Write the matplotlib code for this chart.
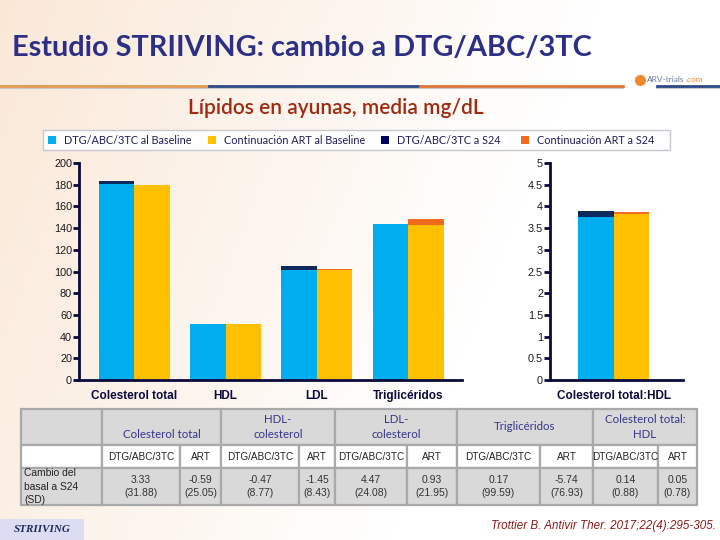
import matplotlib
matplotlib.use('Agg')
import matplotlib.pyplot as plt
import numpy as np
from matplotlib.patches import Rectangle
from matplotlib.lines import Line2D

# fasting lipids, mean mg/dL
categories = ['Colesterol total', 'HDL', 'LDL', 'Triglicéridos']
dtg_baseline = [181, 51.3, 101, 143.5]
dtg_s24 = [183.5, 52, 105, 144]
art_baseline = [180, 51.3, 101.5, 143]
art_s24 = [179.5, 52, 102, 148.5]

ratio_label = 'Colesterol total:HDL'
ratio_dtg_baseline = 3.75
ratio_dtg_s24 = 3.9
ratio_art_baseline = 3.83
ratio_art_s24 = 3.86

legend_labels = ['DTG/ABC/3TC al Baseline', 'Continuación ART al Baseline',
                 'DTG/ABC/3TC a S24', 'Continuación ART a S24']

# table: change from baseline to W24 (SD)
table_groups = ['Colesterol total', 'HDL-\ncolesterol', 'LDL-\ncolesterol',
                'Triglicéridos', 'Colesterol total:\nHDL']
table_arms = ['DTG/ABC/3TC', 'ART']
row_label = 'Cambio del\nbasal a S24\n(SD)'
change_mean = [3.33, -0.59, -0.47, -1.45, 4.47, 0.93, 0.17, -5.74, 0.14, 0.05]
change_sd = [31.88, 25.05, 8.77, 8.43, 24.08, 21.95, 99.59, 76.93, 0.88, 0.78]

C_BLUE = '#00ADEE'
C_YELLOW = '#FFC000'
C_NAVY = '#0C2A5B'
C_ORANGE = '#F26A1B'
C_AXIS = '#0A0A3C'
C_TITLE = '#2B2F86'

plt.rcParams['font.family'] = ['Lato', 'DejaVu Sans']

W, H = 720, 540
fig = plt.figure(figsize=(7.2, 5.4), dpi=100)


def fx(x):
    return x / W


def fy(y):
    return 1 - y / H


# background: soft peach fading to white
bg = fig.add_axes([0, 0, 1, 1], zorder=-10)
gx = np.linspace(0, 1, 200)
gy = np.linspace(0, 1, 150)
t = np.clip(np.add.outer(gy * 0.35, gx * 1.2), 0, 1)
peach = np.array([250, 232, 215]) / 255
img = peach[None, None, :] * (1 - t[..., None]) + t[..., None]
bg.imshow(img, aspect='auto', extent=[0, 1, 0, 1], origin='upper')
bg.set_axis_off()

# title + decorative rule
fig.text(fx(12), fy(48), 'Estudio STRIIVING: cambio a DTG/ABC/3TC', fontsize=20.8,
         fontweight='bold', color=C_TITLE, va='center', ha='left')
for x0, x1, c in [(0, 209, '#E39A55'), (209, 420, '#2C4A88'), (420, 623, '#E0773A'), (657, 720, '#2C4A88')]:
    fig.add_artist(Line2D([fx(x0), fx(x1)], [fy(88), fy(88)], color='#C8C8C8', lw=1.5))
    fig.add_artist(Line2D([fx(x0), fx(x1)], [fy(86), fy(86)], color=c, lw=2))
fig.add_artist(Line2D([fx(640)], [fy(80)], marker='o', ms=7, color='#F08A30'))
fig.text(fx(647), fy(80), 'ARV-trials', fontsize=6, color='#6A7A9A', va='center', ha='left')
fig.text(fx(686), fy(80), '.com', fontsize=6, color='#E8803A', va='center', ha='left')

fig.text(fx(336), fy(108), 'Lípidos en ayunas, media mg/dL', fontsize=15,
         fontweight='semibold', color='#9E2A10', va='center', ha='center')

# legend box
fig.add_artist(Rectangle((fx(43), fy(150)), fx(670 - 43), 20 / H, transform=fig.transFigure,
                         facecolor='white', edgecolor='#C8C8D0', lw=1))
leg_colors = [C_BLUE, C_YELLOW, '#000060', C_ORANGE]
leg_x = [48, 208, 381, 521]
for lx, c, lab in zip(leg_x, leg_colors, legend_labels):
    fig.add_artist(Rectangle((fx(lx), fy(144)), 8 / W, 8 / H, transform=fig.transFigure,
                             facecolor=c, edgecolor='none'))
    fig.text(fx(lx + 16), fy(140), lab, fontsize=7.8, color='#1E1E5A', va='center', ha='left')


def style_axis(ax):
    ax.set_facecolor('none')
    for s in ['top', 'right']:
        ax.spines[s].set_visible(False)
    for s in ['left', 'bottom']:
        ax.spines[s].set_color(C_AXIS)
        ax.spines[s].set_linewidth(2)
    ax.tick_params(axis='y', color=C_AXIS, length=4, width=2, labelsize=7.8, pad=1,
                   labelcolor='#1A1A1A', labelfontfamily='Liberation Sans')
    ax.tick_params(axis='x', length=0, pad=7, labelsize=8.5, labelcolor='#0A0A3C')
    for lab in ax.get_xticklabels():
        lab.set_fontweight('bold')
        lab.set_fontfamily('Liberation Sans')


bw = 0.39
# main lipid chart
ax = fig.add_axes([fx(79), fy(380), fx(462 - 79), (380 - 163) / H])
x = np.arange(len(categories))
ax.bar(x - bw / 2, dtg_s24, bw, color=C_NAVY, zorder=1)
ax.bar(x - bw / 2, dtg_baseline, bw, color=C_BLUE, zorder=2)
ax.bar(x + bw / 2, art_s24, bw, color=C_ORANGE, zorder=1)
ax.bar(x + bw / 2, art_baseline, bw, color=C_YELLOW, zorder=2)
ax.set_xlim(-0.606, 3.59)
ax.set_ylim(0, 200)
ax.set_yticks(range(0, 201, 20))
ax.set_xticks(x, categories)
style_axis(ax)

# ratio chart
ax2 = fig.add_axes([fx(550), fy(380), fx(683 - 550), (380 - 163) / H])
ax2.bar(-bw / 2, ratio_dtg_s24, bw, color=C_NAVY, zorder=1)
ax2.bar(-bw / 2, ratio_dtg_baseline, bw, color=C_BLUE, zorder=2)
ax2.bar(bw / 2, ratio_art_s24, bw, color=C_ORANGE, zorder=1)
ax2.bar(bw / 2, ratio_art_baseline, bw, color=C_YELLOW, zorder=2)
ax2.set_xlim(-0.70, 0.757)
ax2.set_ylim(0, 5)
yt = np.arange(0, 5.01, 0.5)
ax2.set_yticks(yt, ['%g' % v for v in yt])
ax2.set_xticks([0], [ratio_label])
style_axis(ax2)

# table
col_x = [21, 102, 180, 221, 299, 335, 407, 457, 540, 593, 658, 697]
row_y = [409, 445, 468, 505]
C_CELL = '#D9D9D9'
C_LINE = '#A9A9A9'


def cell(x0, x1, y0, y1, face):
    fig.add_artist(Rectangle((fx(x0), fy(y1)), (x1 - x0) / W, (y1 - y0) / H,
                             transform=fig.transFigure, facecolor=face,
                             edgecolor=C_LINE, lw=1.6))


cell(col_x[0], col_x[1], row_y[0], row_y[1], C_CELL)
for i, g in enumerate(table_groups):
    x0, x1 = col_x[1 + 2 * i], col_x[3 + 2 * i]
    cell(x0, x1, row_y[0], row_y[1], C_CELL)
    ty = 434 if g == 'Colesterol total' else 427
    fig.text(fx((x0 + x1) / 2), fy(ty), g, fontsize=8.3, color='#35358A',
             ha='center', va='center', linespacing=1.45)

cell(col_x[0], col_x[1], row_y[1], row_y[2], 'white')
cell(col_x[0], col_x[1], row_y[2], row_y[3], C_CELL)
fig.text(fx(24), fy((row_y[2] + row_y[3]) / 2), row_label, fontsize=7.4, color='#222222',
         ha='left', va='center', family='Liberation Sans', linespacing=1.4)
for j in range(len(change_mean)):
    x0, x1 = col_x[1 + j], col_x[2 + j]
    cell(x0, x1, row_y[1], row_y[2], 'white')
    cell(x0, x1, row_y[2], row_y[3], C_CELL)
    fig.text(fx((x0 + x1) / 2), fy((row_y[1] + row_y[2]) / 2), table_arms[j % 2],
             fontsize=7.2, color='#222222', ha='center', va='center', family='Liberation Sans')
    fig.text(fx((x0 + x1) / 2), fy((row_y[2] + row_y[3]) / 2),
             '%.2f\n(%.2f)' % (change_mean[j], change_sd[j]), fontsize=7.5, color='#333333',
             ha='center', va='center', family='Liberation Sans', linespacing=1.35)

# footer
fig.add_artist(Rectangle((0, 0), fx(84), 21 / H, transform=fig.transFigure,
                         facecolor='#DCDCF2', edgecolor='none'))
fig.text(fx(14), fy(530), 'STRIIVING', fontsize=8, color='#1E2A5A', fontweight='bold',
         style='italic', family='Liberation Serif', va='center', ha='left')
fig.text(fx(716), fy(526), 'Trottier B. Antivir Ther. 2017;22(4):295-305.', fontsize=8.4,
         color='#8E1B1B', style='italic', family='Liberation Sans', va='center', ha='right')

fig.savefig('out.png', dpi=100)
